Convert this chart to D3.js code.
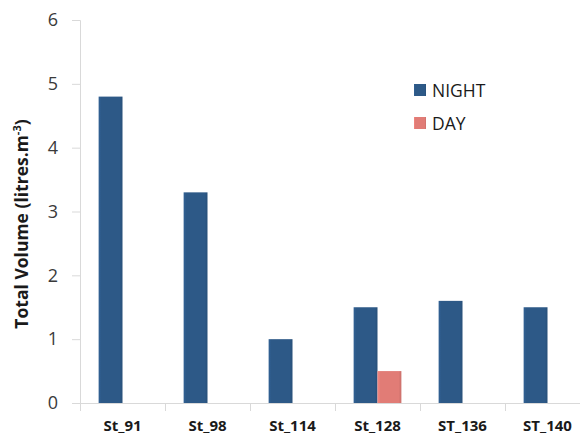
<!DOCTYPE html>
<html><head><meta charset="utf-8">
<script src="https://cdn.jsdelivr.net/npm/d3@7"></script>
<style>body{margin:0;background:#fff}svg{display:block}</style>
</head><body>
<svg id="c" width="580" height="440"></svg>
<script>
const categories = ["St_91","St_98","St_114","St_128","ST_136","ST_140"];
const nightValues = [4.8, 3.3, 1.0, 1.5, 1.6, 1.5];
const dayValues = [0, 0, 0, 0.5, 0, 0];
const seriesNames = ["NIGHT","DAY"];
const yTicks = [0,1,2,3,4,5,6];

const svg = d3.select("#c");
const font = "'Open Sans', 'DejaVu Sans', sans-serif";
const colors = {NIGHT:"#2D5987", DAY:"#E17C76"};

const x = d3.scaleBand().domain(categories).range([80, 590]);
const xi = d3.scaleBand().domain(seriesNames).range([0, x.bandwidth()]).paddingOuter(0.78).paddingInner(0);
const y = d3.scaleLinear().domain([0,6]).range([403, 20]);

const defs = svg.append("defs");
function grad(id, c){
  const g = defs.append("linearGradient").attr("id", id).attr("x1","0").attr("x2","1");
  const base = d3.color(c);
  g.append("stop").attr("offset","0").attr("stop-color", base.brighter(0.25));
  g.append("stop").attr("offset","0.12").attr("stop-color", c);
  g.append("stop").attr("offset","0.88").attr("stop-color", c);
  g.append("stop").attr("offset","1").attr("stop-color", base.darker(0.3));
}
grad("gN", colors.NIGHT); grad("gD", colors.DAY);

// y axis
const yAxis = svg.append("g").attr("transform","translate(80,0)")
  .call(d3.axisLeft(y).tickValues(yTicks).tickSize(8).tickPadding(14).tickFormat(d3.format("d")));
yAxis.select(".domain").attr("stroke","#d9d9d9");
yAxis.selectAll(".tick line").attr("stroke","#d9d9d9");
yAxis.selectAll(".tick text").attr("font-family", font).attr("font-size", 18).attr("fill","#3a3a3a");

// x axis
const xAxis = svg.append("g").attr("transform","translate(0,403)")
  .call(d3.axisBottom(x).tickSize(0).tickPadding(17));
xAxis.select(".domain").remove();
svg.append("line").attr("x1",72).attr("x2",580).attr("y1",403.5).attr("y2",403.5).attr("stroke","#d9d9d9");
categories.forEach((c,i)=>{
  const xx = Math.round(x(c)) + 0.5;
  svg.append("line").attr("x1",xx).attr("x2",xx).attr("y1",403).attr("y2",411).attr("stroke","#d9d9d9");
});
xAxis.selectAll(".tick text").attr("font-family", font).attr("font-size", 15).attr("font-weight","bold").attr("fill","#1a1a1a");

// bars
const rows = categories.map((c,i)=>({cat:c, NIGHT:nightValues[i], DAY:dayValues[i]}));
const g = svg.append("g");
rows.forEach(r=>{
  seriesNames.forEach(s=>{
    if (r[s] <= 0) return;
    g.append("rect")
      .attr("x", x(r.cat) + xi(s))
      .attr("y", y(r[s]))
      .attr("width", xi.bandwidth())
      .attr("height", y(0) - y(r[s]))
      .attr("fill", s==="NIGHT" ? "url(#gN)" : "url(#gD)");
  });
});

// y title
svg.append("text")
  .attr("transform","translate(28,224) rotate(-90)")
  .attr("text-anchor","middle")
  .attr("font-family", font).attr("font-size", 17.5).attr("font-weight","bold").attr("fill","#1a1a1a")
  .html("Total Volume (litres.m<tspan dy='-7' font-size='11'>-3</tspan><tspan dy='7'>)</tspan>");

// legend
const leg = svg.append("g");
seriesNames.forEach((s,i)=>{
  const yy = 84 + i*33;
  leg.append("rect").attr("x",414).attr("y",yy).attr("width",12).attr("height",12)
    .attr("fill", s==="NIGHT" ? "url(#gN)" : "url(#gD)");
  leg.append("text").attr("x",432).attr("y",yy+12.5).attr("font-family",font).attr("font-size",17.5)
    .attr("fill","#1a1a1a").text(s);
});
</script>
</body></html>
